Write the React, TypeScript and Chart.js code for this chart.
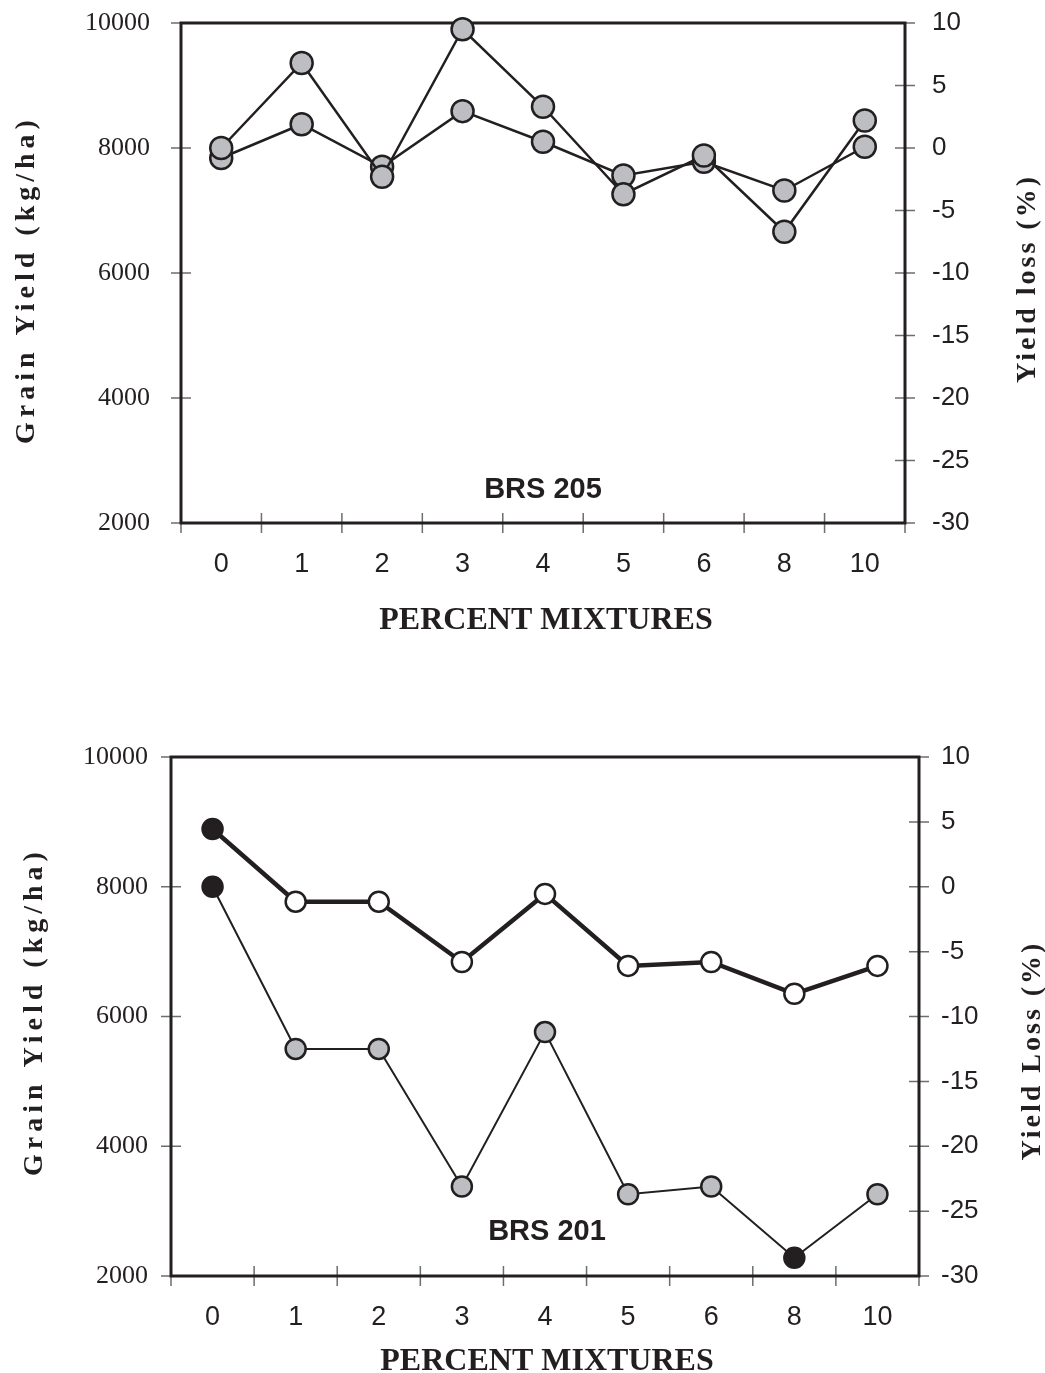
import React, { useEffect, useRef } from "react";
import { Chart, registerables } from "chart.js";

Chart.register(...registerables);

// ---------- data ----------
const categories = ["0", "1", "2", "3", "4", "5", "6", "8", "10"];

const yieldBRS205 = [7840, 8380, 7700, 8590, 8100, 7560, 7780, 7320, 8020];
const lossBRS205 = [0, 6.8, -2.3, 9.5, 3.3, -3.7, -0.6, -6.7, 2.2];

const yieldBRS201 = [8890, 7770, 7770, 6840, 7890, 6780, 6840, 6350, 6780];
const lossBRS201 = [0, -12.5, -12.5, -23.1, -11.2, -23.7, -23.1, -28.6, -23.7];

// indices of points drawn as solid black markers (BRS 201)
const blackYieldBRS201 = [0];
const blackLossBRS201 = [0, 7];

const yieldRange = [2000, 10000];
const yieldStep = 2000;
const lossRange = [-30, 10];
const lossStep = 5;

// ---------- styles ----------
const DARK = "#231f20";
const GREY = "#bdbec1";
const TICK = "#6d6e71";

type Spec = {
  top: number;
  height: number;
  padTop: number;
  leftW: number;
  rightW: number;
  xH: number;
  leftPad: number;
  rightPad: number;
  xPad: number;
  name: string;
  nameX: number;
  nameY: number;
  leftTitle: string;
  leftTitleX: number;
  leftTitleY: number;
  leftSpacing: number;
  rightTitle: string;
  rightTitleX: number;
  rightTitleY: number;
  rightSpacing: number;
  xTitleX: number;
  xTitleY: number;
  datasets: any[];
};

function fills(n: number, base: string, black: number[]) {
  return Array.from({ length: n }, (_, i) => (black.includes(i) ? DARK : base));
}

const topSpec: Spec = {
  top: 0,
  height: 680,
  padTop: 23,
  leftW: 181,
  rightW: 140,
  xH: 157,
  leftPad: 31,
  rightPad: 27,
  xPad: 25,
  name: "BRS 205",
  nameX: 543,
  nameY: 490,
  leftTitle: "Grain Yield (kg/ha)",
  leftTitleX: 27,
  leftTitleY: 282,
  leftSpacing: 5,
  rightTitle: "Yield loss (%)",
  rightTitleX: 1028,
  rightTitleY: 280,
  rightSpacing: 3,
  xTitleX: 546,
  xTitleY: 621,
  datasets: [
    {
      label: "Yield loss (%)",
      data: lossBRS205,
      yAxisID: "y1",
      borderColor: DARK,
      borderWidth: 2.5,
      pointRadius: 11,
      pointBackgroundColor: GREY,
      pointBorderColor: DARK,
      pointBorderWidth: 2.5,
      tension: 0,
      clip: false,
    },
    {
      label: "Grain yield (kg/ha)",
      data: yieldBRS205,
      yAxisID: "y",
      borderColor: DARK,
      borderWidth: 2.5,
      pointRadius: 11,
      pointBackgroundColor: GREY,
      pointBorderColor: DARK,
      pointBorderWidth: 2.5,
      tension: 0,
      clip: false,
    },
  ],
};

const bottomSpec: Spec = {
  top: 680,
  height: 693,
  padTop: 77,
  leftW: 171,
  rightW: 126,
  xH: 97,
  leftPad: 23,
  rightPad: 22,
  xPad: 25,
  name: "BRS 201",
  nameX: 547,
  nameY: 552,
  leftTitle: "Grain Yield (kg/ha)",
  leftTitleX: 35,
  leftTitleY: 334,
  leftSpacing: 5,
  rightTitle: "Yield Loss (%)",
  rightTitleX: 1033,
  rightTitleY: 372,
  rightSpacing: 3,
  xTitleX: 547,
  xTitleY: 682,
  datasets: [
    {
      label: "Grain yield (kg/ha)",
      data: yieldBRS201,
      yAxisID: "y",
      borderColor: DARK,
      borderWidth: 4.5,
      pointRadius: 10,
      pointBackgroundColor: fills(yieldBRS201.length, "#ffffff", blackYieldBRS201),
      pointBorderColor: DARK,
      pointBorderWidth: 2.5,
      tension: 0,
      clip: false,
    },
    {
      label: "Yield loss (%)",
      data: lossBRS201,
      yAxisID: "y1",
      borderColor: DARK,
      borderWidth: 2,
      pointRadius: 10,
      pointBackgroundColor: fills(lossBRS201.length, GREY, blackLossBRS201),
      pointBorderColor: DARK,
      pointBorderWidth: 2.5,
      tension: 0,
      clip: false,
    },
  ],
};

function drawRotated(
  ctx: CanvasRenderingContext2D,
  text: string,
  x: number,
  y: number,
  font: string,
  spacing: number
) {
  ctx.save();
  ctx.translate(x, y);
  ctx.rotate(-Math.PI / 2);
  ctx.font = font;
  (ctx as any).letterSpacing = spacing + "px";
  ctx.fillStyle = DARK;
  ctx.textAlign = "center";
  ctx.textBaseline = "middle";
  ctx.fillText(text, spacing / 2, 0);
  ctx.restore();
}

function framePlugin(spec: Spec) {
  return {
    id: "frame" + spec.name.replace(/\s/g, ""),
    beforeDatasetsDraw(chart: any) {
      const { ctx, chartArea, scales } = chart;
      const { left, right, top, bottom } = chartArea;
      ctx.save();
      // tick marks crossing the axes
      ctx.strokeStyle = TICK;
      ctx.lineWidth = 1.5;
      ctx.beginPath();
      const xs = scales.x;
      for (let i = 0; i <= categories.length; i++) {
        const px = xs.getPixelForValue(i - 0.5);
        ctx.moveTo(px, bottom - 10);
        ctx.lineTo(px, bottom + 10);
      }
      scales.y.ticks.forEach((t: any) => {
        const py = scales.y.getPixelForValue(t.value);
        ctx.moveTo(left - 10, py);
        ctx.lineTo(left + 10, py);
      });
      scales.y1.ticks.forEach((t: any) => {
        const py = scales.y1.getPixelForValue(t.value);
        ctx.moveTo(right - 10, py);
        ctx.lineTo(right + 10, py);
      });
      ctx.stroke();
      // frame
      ctx.strokeStyle = DARK;
      ctx.lineWidth = 3;
      ctx.strokeRect(left, top, right - left, bottom - top);

      // texts
      ctx.fillStyle = DARK;
      ctx.font = "bold 29px 'Liberation Sans', Arial, sans-serif";
      ctx.textAlign = "center";
      ctx.textBaseline = "middle";
      ctx.fillText(spec.name, spec.nameX, spec.nameY);

      ctx.font = "bold 32px 'Liberation Serif', 'Times New Roman', serif";
      ctx.fillText("PERCENT MIXTURES", spec.xTitleX, spec.xTitleY);

      drawRotated(
        ctx,
        spec.leftTitle,
        spec.leftTitleX,
        spec.leftTitleY,
        "bold 28px 'Liberation Serif', 'Times New Roman', serif",
        spec.leftSpacing
      );
      drawRotated(
        ctx,
        spec.rightTitle,
        spec.rightTitleX,
        spec.rightTitleY,
        "bold 28px 'Liberation Serif', 'Times New Roman', serif",
        spec.rightSpacing
      );
      ctx.restore();
    },
  };
}

function buildConfig(spec: Spec): any {
  const noGrid = { display: false, drawTicks: false, offset: true };
  return {
    type: "line",
    data: { labels: categories, datasets: spec.datasets },
    options: {
      responsive: false,
      animation: false,
      events: [],
      layout: { padding: { top: spec.padTop, left: 0, right: 0, bottom: 0 } },
      plugins: { legend: { display: false }, tooltip: { enabled: false }, title: { display: false } },
      scales: {
        x: {
          type: "category",
          offset: true,
          grid: noGrid,
          border: { display: false },
          ticks: {
            font: { family: "'Liberation Sans', Arial, sans-serif", size: 27 },
            color: DARK,
            padding: spec.xPad,
            maxRotation: 0,
            autoSkip: false,
          },
          afterFit: (s: any) => {
            s.height = spec.xH;
            s.paddingLeft = 0;
            s.paddingRight = 0;
          },
        },
        y: {
          type: "linear",
          position: "left",
          min: yieldRange[0],
          max: yieldRange[1],
          grid: { display: false, drawTicks: false },
          border: { display: false },
          ticks: {
            stepSize: yieldStep,
            font: { family: "'Liberation Serif', 'Times New Roman', serif", size: 26 },
            color: DARK,
            padding: spec.leftPad,
            callback: (v: any) => String(v),
          },
          afterFit: (s: any) => {
            s.width = spec.leftW;
            s.paddingTop = 0;
            s.paddingBottom = 0;
          },
        },
        y1: {
          type: "linear",
          position: "right",
          min: lossRange[0],
          max: lossRange[1],
          grid: { display: false, drawTicks: false },
          border: { display: false },
          ticks: {
            stepSize: lossStep,
            font: { family: "'Liberation Sans', Arial, sans-serif", size: 26 },
            color: DARK,
            padding: spec.rightPad,
            callback: (v: any) => String(v),
          },
          afterFit: (s: any) => {
            s.width = spec.rightW;
            s.paddingTop = 0;
            s.paddingBottom = 0;
          },
        },
      },
    },
    plugins: [framePlugin(spec)],
  };
}

function ChartPanel({ spec }: { spec: Spec }) {
  const ref = useRef<HTMLCanvasElement>(null);
  useEffect(() => {
    if (!ref.current) return;
    const chart = new Chart(ref.current, buildConfig(spec));
    return () => chart.destroy();
  }, [spec]);
  return (
    <canvas
      ref={ref}
      width={1045}
      height={spec.height}
      style={{
        position: "absolute",
        left: 0,
        top: spec.top,
        width: 1045,
        height: spec.height,
        display: "block",
      }}
    />
  );
}

export default function App() {
  return (
    <div
      style={{
        position: "absolute",
        left: 0,
        top: 0,
        width: 1045,
        height: 1373,
        background: "#ffffff",
        overflow: "hidden",
      }}
    >
      <ChartPanel spec={topSpec} />
      <ChartPanel spec={bottomSpec} />
    </div>
  );
}
